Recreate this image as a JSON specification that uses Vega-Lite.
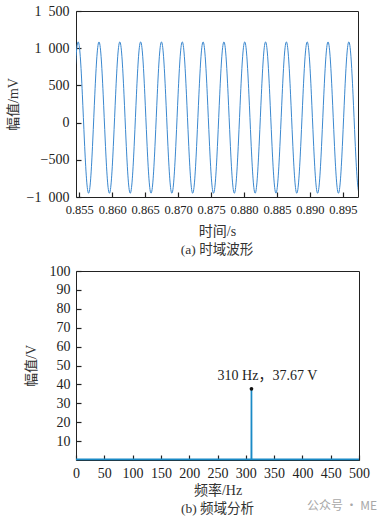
{
  "$schema": "https://vega.github.io/schema/vega-lite/v6.json",
  "padding": {"left": 5, "top": 3, "right": 2, "bottom": 2},
  "bounds": "flush",
  "spacing": 74,
  "config": {
    "font": "Liberation Serif, Noto Sans CJK SC",
    "view": {"stroke": "#222222", "strokeWidth": 1},
    "axis": {
      "domain": false,
      "grid": false,
      "tickSize": -5,
      "tickColor": "#222222",
      "tickWidth": 1.2,
      "labelFont": "Liberation Serif",
      "labelColor": "#222222",
      "labelOverlap": false,
      "labelFlush": false,
      "titleFont": "Liberation Serif, Noto Sans CJK SC",
      "titleFontWeight": "normal",
      "titleColor": "#333333",
      "titleFontSize": 14,
      "labelPadding": 11
    },
    "title": {"font": "Liberation Serif, Noto Sans CJK SC", "fontSize": 13.5, "fontWeight": "normal", "color": "#333333", "orient": "bottom", "anchor": "middle"}
  },
  "vconcat": [
    {
      "width": 282,
      "height": 186,
      "title": {"text": "(a) 时域波形", "orient": "bottom", "offset": 4},
      "data": {"values": [
        {"t":0.854198,"v":382},{"t":0.854514,"v":891},{"t":0.854830,"v":1085},{"t":0.855146,"v":891},{"t":0.855462,"v":382},{"t":0.855778,"v":-247},{"t":0.856094,"v":-756},{"t":0.856410,"v":-950},{"t":0.856726,"v":-756},{"t":0.857042,"v":-247},
        {"t":0.857358,"v":382},{"t":0.857674,"v":891},{"t":0.857990,"v":1085},{"t":0.858306,"v":891},{"t":0.858622,"v":382},{"t":0.858938,"v":-247},{"t":0.859254,"v":-756},{"t":0.859570,"v":-950},{"t":0.859886,"v":-756},{"t":0.860202,"v":-247},
        {"t":0.860518,"v":382},{"t":0.860834,"v":891},{"t":0.861150,"v":1085},{"t":0.861466,"v":891},{"t":0.861782,"v":382},{"t":0.862098,"v":-247},{"t":0.862414,"v":-756},{"t":0.862730,"v":-950},{"t":0.863046,"v":-756},{"t":0.863362,"v":-247},
        {"t":0.863678,"v":382},{"t":0.863994,"v":891},{"t":0.864310,"v":1085},{"t":0.864626,"v":891},{"t":0.864942,"v":382},{"t":0.865258,"v":-247},{"t":0.865574,"v":-756},{"t":0.865890,"v":-950},{"t":0.866206,"v":-756},{"t":0.866522,"v":-247},
        {"t":0.866838,"v":382},{"t":0.867154,"v":891},{"t":0.867470,"v":1085},{"t":0.867786,"v":891},{"t":0.868102,"v":382},{"t":0.868418,"v":-247},{"t":0.868734,"v":-756},{"t":0.869050,"v":-950},{"t":0.869366,"v":-756},{"t":0.869682,"v":-247},
        {"t":0.869998,"v":382},{"t":0.870314,"v":891},{"t":0.870630,"v":1085},{"t":0.870946,"v":891},{"t":0.871262,"v":382},{"t":0.871578,"v":-247},{"t":0.871894,"v":-756},{"t":0.872210,"v":-950},{"t":0.872526,"v":-756},{"t":0.872842,"v":-247},
        {"t":0.873158,"v":382},{"t":0.873474,"v":891},{"t":0.873790,"v":1085},{"t":0.874106,"v":891},{"t":0.874422,"v":382},{"t":0.874738,"v":-247},{"t":0.875054,"v":-756},{"t":0.875370,"v":-950},{"t":0.875686,"v":-756},{"t":0.876002,"v":-247},
        {"t":0.876318,"v":382},{"t":0.876634,"v":891},{"t":0.876950,"v":1085},{"t":0.877266,"v":891},{"t":0.877582,"v":382},{"t":0.877898,"v":-247},{"t":0.878214,"v":-756},{"t":0.878530,"v":-950},{"t":0.878846,"v":-756},{"t":0.879162,"v":-247},
        {"t":0.879478,"v":382},{"t":0.879794,"v":891},{"t":0.880110,"v":1085},{"t":0.880426,"v":891},{"t":0.880742,"v":382},{"t":0.881058,"v":-247},{"t":0.881374,"v":-756},{"t":0.881690,"v":-950},{"t":0.882006,"v":-756},{"t":0.882322,"v":-247},
        {"t":0.882638,"v":382},{"t":0.882954,"v":891},{"t":0.883270,"v":1085},{"t":0.883586,"v":891},{"t":0.883902,"v":382},{"t":0.884218,"v":-247},{"t":0.884534,"v":-756},{"t":0.884850,"v":-950},{"t":0.885166,"v":-756},{"t":0.885482,"v":-247},
        {"t":0.885798,"v":382},{"t":0.886114,"v":891},{"t":0.886430,"v":1085},{"t":0.886746,"v":891},{"t":0.887062,"v":382},{"t":0.887378,"v":-247},{"t":0.887694,"v":-756},{"t":0.888010,"v":-950},{"t":0.888326,"v":-756},{"t":0.888642,"v":-247},
        {"t":0.888958,"v":382},{"t":0.889274,"v":891},{"t":0.889590,"v":1085},{"t":0.889906,"v":891},{"t":0.890222,"v":382},{"t":0.890538,"v":-247},{"t":0.890854,"v":-756},{"t":0.891170,"v":-950},{"t":0.891486,"v":-756},{"t":0.891802,"v":-247},
        {"t":0.892118,"v":382},{"t":0.892434,"v":891},{"t":0.892750,"v":1085},{"t":0.893066,"v":891},{"t":0.893382,"v":382},{"t":0.893698,"v":-247},{"t":0.894014,"v":-756},{"t":0.894330,"v":-950},{"t":0.894646,"v":-756},{"t":0.894962,"v":-247},
        {"t":0.895278,"v":382},{"t":0.895594,"v":891},{"t":0.895910,"v":1085},{"t":0.896226,"v":891},{"t":0.896542,"v":382},{"t":0.896858,"v":-247},{"t":0.897174,"v":-756},{"t":0.897490,"v":-950},{"t":0.897806,"v":-756},{"t":0.898122,"v":-247}
      ]},
      "mark": {"type": "line", "clip": true, "interpolate": "natural", "color": "#3b88cf", "strokeWidth": 1},
      "encoding": {
        "x": {"field": "t", "type": "quantitative",
          "scale": {"domain": [0.8545, 0.8973], "nice": false, "zero": false},
          "axis": {"title": "时间/s", "values": [0.855,0.86,0.865,0.87,0.875,0.88,0.885,0.89,0.895], "format": ".3f", "labelFontSize": 12.5, "titlePadding": 9}},
        "y": {"field": "v", "type": "quantitative",
          "scale": {"domain": [-1000, 1500], "nice": false, "zero": false},
          "axis": {"title": "幅值/mV", "values": [-1000,-500,0,500,1000,1500], "labelFontSize": 14, "titlePadding": 6, "labelPadding": 12,
            "labelExpr": "replace(format(datum.value, ','), ',', '\u2002')"}}
      }
    },
    {
      "width": 283,
      "height": 189,
      "title": {"text": "(b) 频域分析", "orient": "bottom", "offset": -10},
      "encoding": {
        "x": {"field": "f", "type": "quantitative",
          "scale": {"domain": [0, 500], "nice": false},
          "axis": {"title": "频率/Hz", "values": [0,50,100,150,200,250,300,350,400,450,500], "labelFontSize": 14, "titlePadding": 3, "labelOverlap": false}},
        "y": {"field": "a", "type": "quantitative",
          "scale": {"domain": [0, 100], "nice": false},
          "axis": {"title": "幅值/V", "values": [10,20,30,40,50,60,70,80,90,100], "labelFontSize": 14, "titlePadding": 11, "labelOverlap": false}}
      },
      "layer": [
        {
          "data": {"values": [
            {"f":0,"a":0.35},{"f":309.8,"a":0.35},{"f":310,"a":37.67},{"f":310.2,"a":0.35},{"f":500,"a":0.35}
          ]},
          "mark": {"type": "line", "color": "#1a8ac6", "strokeWidth": 1.7}
        },
        {
          "data": {"values": [{"f":310,"a":37.67,"label":"310 Hz，37.67 V"}]},
          "layer": [
            {"mark": {"type": "point", "filled": true, "color": "#111111", "size": 14, "opacity": 1}},
            {"mark": {"type": "text", "align": "center", "baseline": "bottom", "dx": 16, "dy": -6, "fontSize": 14, "color": "#222222", "font": "Liberation Serif, Noto Sans CJK SC"},
             "encoding": {"text": {"field": "label"}}}
          ]
        },
        {
          "data": {"values": [{"f":532,"a":-24.5,"label":"公众号 · ME"}]},
          "mark": {"type": "text", "align": "right", "baseline": "middle", "fontSize": 12, "color": "#a8a8a8", "font": "Noto Sans CJK SC"},
          "encoding": {"text": {"field": "label"}}
        }
      ]
    }
  ]
}
